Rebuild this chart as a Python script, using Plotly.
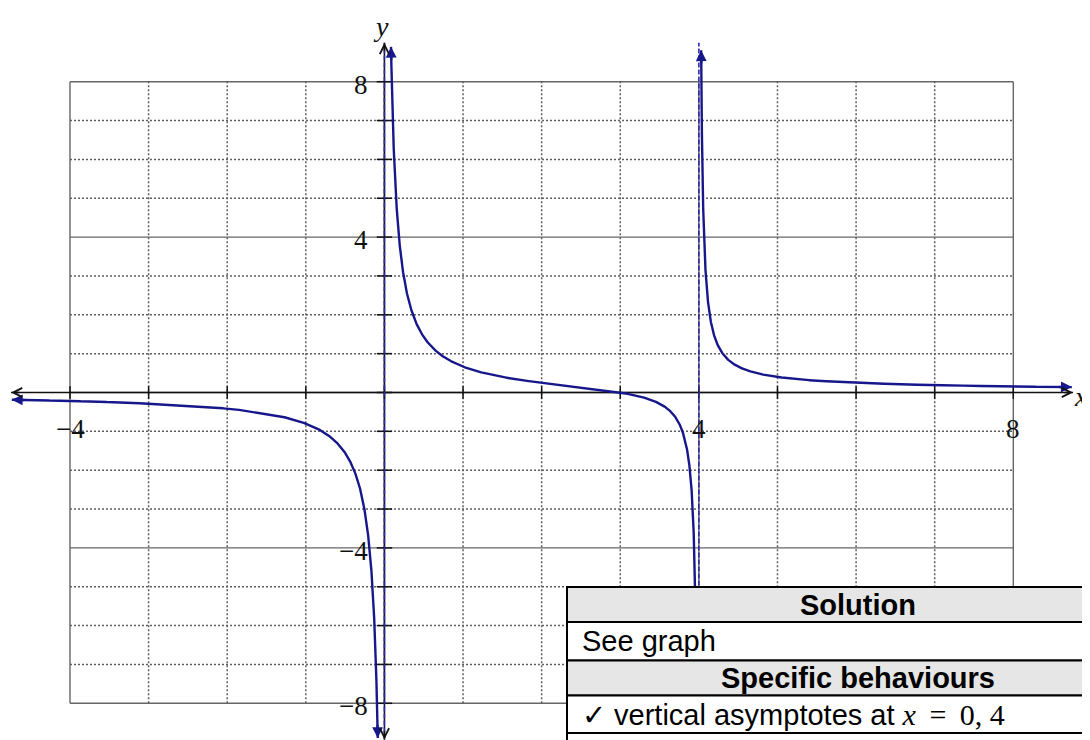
import numpy as np
import plotly.graph_objects as go

# ---------------- data ----------------
x_tick_values = [-4, 4, 8]
x_tick_labels = ["−4", "4", "8"]
y_tick_values = [8, 4, -4, -8]
y_tick_labels = ["8", "4", "−4", "−8"]
grid_x = list(range(-4, 9))
grid_y = list(range(-8, 9))
major_every = 4
vertical_asymptotes = [0, 4]
x_intercept = 3
# each branch: (start x, end x, arrow at start, arrow at end)
branches = [(-4.74, -0.0849, True, True),
            (0.0837, 3.972, True, False),
            (4.029, 8.744, True, True)]
axis_x_extent = (-4.75, 8.76)
axis_y_extent = (-8.93, 9.0)
table_rows = ["Solution", "See graph", "Specific behaviours",
              "✓ vertical asymptotes at <span style='font-family:Liberation Serif;font-size:30px'><i>x</i>\u2009 = \u20090, 4</span>",
              "✓"]
table_is_heading = [True, False, True, False, False]

# ---------------- layout geometry ----------------
OFF = 8                     # page body margin in the browser
W, H = 1090 - OFF, 740 - OFF
XR = [-4.8905 + OFF / 78.61, 8.9757]
YR = [-8.945, 10.103 - OFF / 38.85]
SX = W / (XR[1] - XR[0])
SY = H / (YR[1] - YR[0])
CURVE = "#17178c"
ASYM = "#2a2aa6"
GRID = "#666666"


def f(x):
    return (x - x_intercept) / ((x - vertical_asymptotes[0]) * (x - vertical_asymptotes[1]))


def px(xp):
    return (xp - OFF) / W


def py(yp):
    return 1 - (yp - OFF) / H


fig = go.Figure()

# grid
for major in (True, False):
    xs, ys = [], []
    for gx in grid_x:
        if (gx % major_every == 0) == major:
            xs += [gx, gx, None]
            ys += [grid_y[0], grid_y[-1], None]
    for gy in grid_y:
        if (gy % major_every == 0) == major:
            xs += [grid_x[0], grid_x[-1], None]
            ys += [gy, gy, None]
    fig.add_trace(go.Scatter(x=xs, y=ys, mode="lines", hoverinfo="skip",
                             line=dict(color=GRID if major else "#5e5e5e",
                                       width=1.4 if major else 1.5,
                                       dash="solid" if major else "2px,2px")))

# axes lines
fig.add_trace(go.Scatter(x=list(axis_x_extent), y=[0, 0], mode="lines",
                         line=dict(color="#111111", width=1.5), hoverinfo="skip"))
fig.add_trace(go.Scatter(x=[0, 0], y=list(axis_y_extent), mode="lines",
                         line=dict(color="#111111", width=1.5), hoverinfo="skip"))

# tick marks
fig.add_trace(go.Scatter(x=grid_x, y=[0] * len(grid_x), mode="markers", hoverinfo="skip",
                         marker=dict(symbol="line-ns", size=9,
                                     line=dict(color="#111111", width=1.5))))
fig.add_trace(go.Scatter(x=[0] * len(grid_y), y=grid_y, mode="markers", hoverinfo="skip",
                         marker=dict(symbol="line-ew", size=11,
                                     line=dict(color="#111111", width=1.5))))

# asymptotes (dashed)
for a in vertical_asymptotes:
    fig.add_trace(go.Scatter(x=[a, a], y=list(axis_y_extent), mode="lines", hoverinfo="skip",
                             line=dict(color=ASYM, width=1.6, dash="5px,2px")))

annotations = []

# curve branches
for (x0, x1, a_start, a_end) in branches:
    t = np.linspace(0, 1, 3000)
    xs = x0 + (x1 - x0) * (0.5 - 0.5 * np.cos(np.pi * t))
    ys = f(xs)
    fig.add_trace(go.Scatter(x=xs, y=ys, mode="lines", hoverinfo="skip",
                             line=dict(color=CURVE, width=2.4)))
    dist = lambda i, j: np.hypot((xs[i] - xs[j]) * SX, (ys[i] - ys[j]) * SY)
    heads = []
    if a_start:
        heads.append((0, 1))
    if a_end:
        heads.append((len(xs) - 1, -1))
    for e, step in heads:
        k = e
        while dist(k, e) < 14:
            k += step
        annotations.append(dict(x=xs[e], y=ys[e], ax=xs[k], ay=ys[k], xref="x", yref="y",
                                axref="x", ayref="y", text="", showarrow=True,
                                arrowhead=2, arrowsize=0.9, arrowwidth=2.4,
                                arrowcolor=CURVE, standoff=0))

# axis chevrons
for (hx, hy, ax, ay) in [(axis_x_extent[1], 0, -10, 0), (axis_x_extent[0], 0, 10, 0),
                         (0, axis_y_extent[1], 0, 10), (0, axis_y_extent[0], 0, -10)]:
    annotations.append(dict(x=hx, y=hy, xref="x", yref="y", ax=ax, ay=ay, text="",
                            showarrow=True, arrowhead=5, arrowsize=1.3, arrowwidth=1.4,
                            arrowcolor="#111111", standoff=0))

# tick labels
for v, lab in zip(x_tick_values, x_tick_labels):
    annotations.append(dict(x=v, y=0, xref="x", yref="y", text=lab, showarrow=False,
                            xanchor="center", yanchor="middle", yshift=-37,
                            font=dict(family="Liberation Serif", size=27, color="#111111")))
for v, lab in zip(y_tick_values, y_tick_labels):
    annotations.append(dict(x=0, y=v, xref="x", yref="y", text=lab, showarrow=False,
                            xanchor="right", yanchor="middle", xshift=-14, yshift=-3,
                            font=dict(family="Liberation Serif", size=27, color="#111111")))

# axis names
annotations.append(dict(x=px(381), y=py(9), xref="paper", yref="paper", text="<i>y</i>",
                        showarrow=False, xanchor="center", yanchor="top",
                        font=dict(family="Liberation Serif", size=28, color="#111111")))
annotations.append(dict(x=px(1072), y=py(396), xref="paper", yref="paper", text="<i>x</i>",
                        showarrow=False, xanchor="left", yanchor="middle",
                        font=dict(family="Liberation Serif", size=28, color="#111111")))

# table (drawn on top)
shapes = []
row_edges = [587, 622, 660.5, 695.5, 733, 771]
tbl_left, tbl_right, tbl_center = 567, 1150, 857.5
for i, (txt, head) in enumerate(zip(table_rows, table_is_heading)):
    top, bot = row_edges[i], row_edges[i + 1]
    shapes.append(dict(type="rect", xref="paper", yref="paper", layer="above",
                       x0=px(tbl_left), x1=px(tbl_right), y0=py(bot), y1=py(top),
                       fillcolor="#e6e6e6" if head else "white",
                       line=dict(color="black", width=2)))
    mid = (top + bot) / 2
    if head:
        annotations.append(dict(x=px(tbl_center), y=py(mid), xref="paper", yref="paper",
                                text="<b>" + txt + "</b>", showarrow=False,
                                xanchor="center", yanchor="middle",
                                font=dict(family="Liberation Sans", size=29, color="black")))
    else:
        annotations.append(dict(x=px(580), y=py(mid), xref="paper", yref="paper",
                                text=txt, showarrow=False,
                                xanchor="left", yanchor="middle",
                                font=dict(family="Liberation Sans", size=29, color="black")))

fig.update_layout(
    width=W, height=H, margin=dict(l=0, r=0, t=0, b=0),
    paper_bgcolor="white", plot_bgcolor="white", showlegend=False,
    xaxis=dict(range=XR, visible=False, fixedrange=True),
    yaxis=dict(range=YR, visible=False, fixedrange=True),
    shapes=shapes, annotations=annotations,
)

fig.write_html("out.html")
